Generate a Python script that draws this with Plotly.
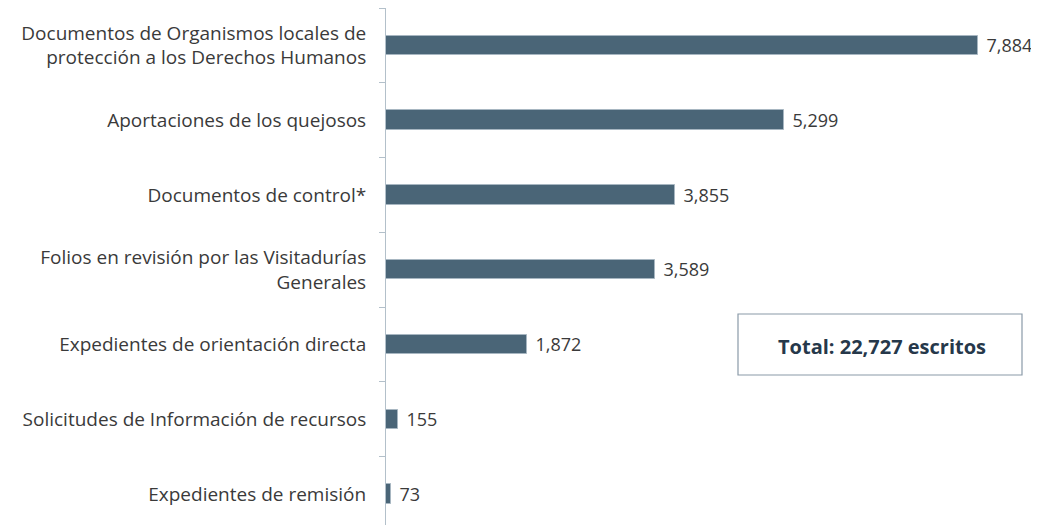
import plotly.graph_objects as go

categories = [
    "Documentos de Organismos locales de<br>protección a los Derechos Humanos",
    "Aportaciones de los quejosos",
    "Documentos de control*",
    "Folios en revisión por las Visitadurías<br>Generales",
    "Expedientes de orientación directa",
    "Solicitudes de Información de recursos",
    "Expedientes de remisión",
]
values = [7884, 5299, 3855, 3589, 1872, 155, 73]
value_labels = ["\u2004" + f"{v:,}" for v in values]
total_text = "Total: 22,727 escritos"

L, T, W, H = 378, 0, 661, 525  # margins / plot size (page body adds 8px offset)


def px(X):
    return (X - 8 - L) / W


def py(Y):
    return 1 - (Y - 8 - T) / H


fig = go.Figure()
fig.add_trace(go.Bar(
    x=values,
    y=categories,
    orientation="h",
    width=0.26,
    marker=dict(color="#4a6577", line=dict(color="#a7b6c1", width=1)),
    text=value_labels,
    textposition="outside",
    constraintext="none",
    textfont=dict(family="Open Sans", size=18, color="#3a3a3a"),
    cliponaxis=False,
))

fig.update_layout(
    width=1039, height=525,
    margin=dict(l=L, r=0, t=T, b=0),
    paper_bgcolor="white", plot_bgcolor="white",
    showlegend=False,
    bargap=0,
    xaxis=dict(range=[0, 8803], visible=False),
    yaxis=dict(
        type="category",
        categoryorder="array", categoryarray=categories,
        range=[6.52, -0.5],
        showline=True, linecolor="#b3c0ca", linewidth=1,
        ticks="outside", ticklen=6, tickcolor="#b3c0ca",
        tickson="boundaries",
        ticklabelstandoff=15,
        tickfont=dict(family="Open Sans", size=19, color="#3a3a3a"),
        showgrid=False,
    ),
)

fig.add_shape(type="rect", xref="paper", yref="paper",
              x0=px(738), x1=px(1022), y0=py(375), y1=py(314),
              line=dict(color="#8a9aa8", width=1.2), fillcolor="white")
fig.add_annotation(xref="paper", yref="paper",
                   x=px(882), y=py(346), xanchor="center", yanchor="middle",
                   text=f"<b>{total_text}</b>", showarrow=False,
                   font=dict(family="Open Sans", size=20, color="#26384a"))

fig.write_html("out.html")
